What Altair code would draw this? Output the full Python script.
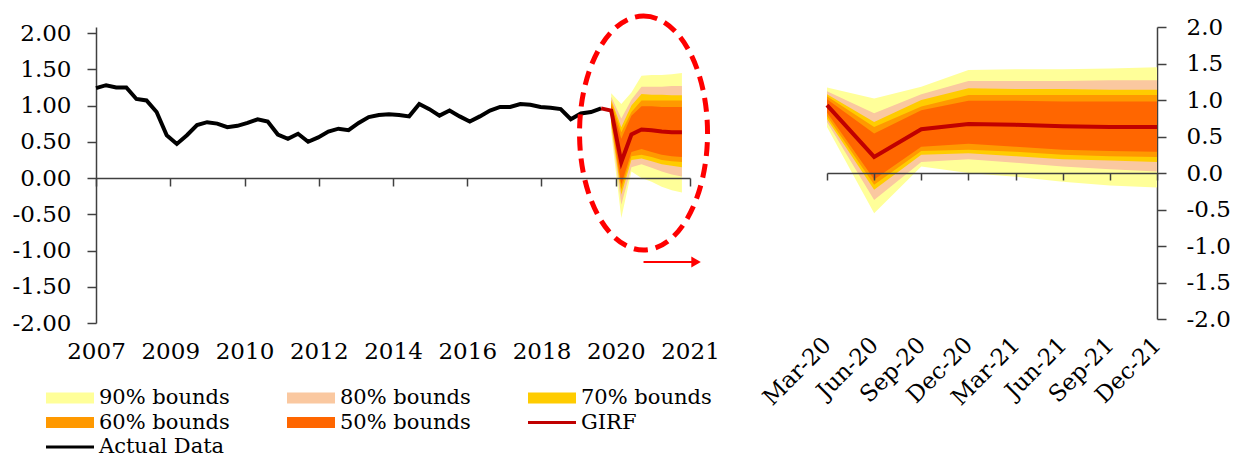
import altair as alt
import pandas as pd

# ---------------- data ----------------
# Actual series, quarterly
actual = [1.24, 1.28, 1.25, 1.25, 1.09, 1.07, 0.91, 0.59, 0.47, 0.59,
          0.73, 0.77, 0.75, 0.70, 0.72, 0.76, 0.81, 0.78, 0.60, 0.54,
          0.61, 0.50, 0.56, 0.64, 0.68, 0.66, 0.76, 0.84, 0.87, 0.88,
          0.87, 0.85, 1.02, 0.95, 0.86, 0.93, 0.85, 0.78, 0.85, 0.93,
          0.98, 0.98, 1.02, 1.01, 0.98, 0.97, 0.95, 0.81, 0.89, 0.91, 0.96]
year_labels = ["2007", "2009", "2010", "2012", "2014", "2016", "2018", "2020", "2021"]

# Forecast horizon, GIRF and its bounds
months = ["Mar-20", "Jun-20", "Sep-20", "Dec-20", "Mar-21", "Jun-21", "Sep-21", "Dec-21"]
girf = [0.93, 0.22, 0.60, 0.67, 0.66, 0.64, 0.63, 0.63]
hi90 = [1.17, 1.02, 1.18, 1.41, 1.42, 1.42, 1.43, 1.45]
hi80 = [1.12, 0.82, 1.08, 1.26, 1.26, 1.26, 1.27, 1.27]
hi70 = [1.08, 0.70, 1.00, 1.16, 1.15, 1.15, 1.14, 1.14]
hi60 = [1.05, 0.63, 0.91, 1.07, 1.07, 1.07, 1.07, 1.07]
hi50 = [1.01, 0.54, 0.86, 0.99, 0.99, 0.98, 0.98, 0.98]
lo50 = [0.83, -0.09, 0.36, 0.40, 0.36, 0.32, 0.30, 0.29]
lo60 = [0.78, -0.16, 0.30, 0.32, 0.29, 0.25, 0.23, 0.22]
lo70 = [0.74, -0.23, 0.25, 0.27, 0.23, 0.19, 0.17, 0.15]
lo80 = [0.70, -0.37, 0.15, 0.19, 0.14, 0.09, 0.05, 0.02]
lo90 = [0.63, -0.55, 0.09, 0.00, -0.05, -0.12, -0.17, -0.20]

band_names = ["90% bounds", "80% bounds", "70% bounds", "60% bounds", "50% bounds"]
band_hi = [hi90, hi80, hi70, hi60, hi50]
band_lo = [lo90, lo80, lo70, lo60, lo50]
legend_names = band_names + ["GIRF", "Actual Data"]
legend_colors = ["#FFFF99", "#FAC8A0", "#FFCC00", "#FF9900", "#FF6600", "#C00000", "#000000"]

# Highlight annotation (ellipse centre and arrow) on the quarterly axis
ellipse_q, ellipse_v = [54.2], [0.62]
arrow_q, arrow_q2, arrow_v = [54.2], [59.4], [-1.16]

# ---------------- layout / style ----------------
FONT = "DejaVu Serif"
AXIS_GREY = "#404040"
PX_PER_UNIT_L = 72.5          # left panel: pixels per unit on the y axis
LEFT_TOP_GAP = 6              # left plot starts a little lower than the right one
LEFT_W = 594
LEFT_H = int(4 * PX_PER_UNIT_L + LEFT_TOP_GAP)
LEFT_YMAX = 2 + LEFT_TOP_GAP / PX_PER_UNIT_L
RIGHT_W, RIGHT_H = 330, 292
X_MAX = 58.8
tick_step = X_MAX / (len(year_labels) - 1)
tick_pos = [i * tick_step for i in range(len(year_labels))]
y_ticks = [-2.0, -1.5, -1.0, -0.5, 0.0, 0.5, 1.0, 1.5, 2.0]

n_act = len(actual)
actual_df = pd.DataFrame({"q": list(range(n_act)), "v": actual})
girf_left_df = pd.DataFrame({"q": list(range(n_act - 1, n_act + len(girf))),
                             "v": [actual[-1]] + girf})
girf_right_df = pd.DataFrame({"m": months, "v": girf})
fan_rows = []
for name, hi, lo in zip(band_names, band_hi, band_lo):
    for i, (h, l) in enumerate(zip(hi, lo)):
        fan_rows.append({"band": name, "q": n_act + i, "m": months[i], "hi": h, "lo": l})
fan_df = pd.DataFrame(fan_rows)
ellipse_df = pd.DataFrame({"q": ellipse_q, "v": ellipse_v})
arrow_df = pd.DataFrame({"q": arrow_q, "q2": arrow_q2, "v": arrow_v})

# Legend swatches: wide rectangles for the bounds, thin bars for the lines
rect_path = "M -2 -0.46 H 2 V 0.46 H -2 Z"
line_path = "M -2 -0.13 H 2 V 0.13 H -2 Z"
legend = alt.Legend(
    title=None, orient="none", legendX=-38, legendY=359, columns=3, direction="horizontal",
    symbolSize=576,
    symbolType=alt.ExprRef(
        expr=f"(datum.label === 'GIRF' || datum.label === 'Actual Data') ? '{line_path}' : '{rect_path}'"),
    symbolStrokeWidth=0,
    labelFont=FONT, labelFontSize=21, labelColor="black", labelOffset=17,
    columnPadding=57, rowPadding=2.5,
)
color = alt.Color("band:N", scale=alt.Scale(domain=legend_names, range=legend_colors), legend=legend)

minus_fix = "replace(format(datum.value, '{}'), '\u2212', '-')"

# ---------------- left panel ----------------
xq_scale = alt.Scale(domain=[0, X_MAX], nice=False, zero=False)
yl_scale = alt.Scale(domain=[-2, LEFT_YMAX], nice=False)
yl_axis = alt.Axis(values=y_ticks, labelExpr=minus_fix.format(".2f"), tickSize=9, labelPadding=16,
                   labelFontSize=23, labelOverlap=False, title=None)
x_none = alt.X("q:Q", scale=xq_scale, axis=None)
x_labels = alt.X("q:Q", scale=xq_scale, axis=alt.Axis(
    values=tick_pos, labelExpr=f"{year_labels}[round(datum.value / {tick_step})]",
    domain=False, ticks=False, labelPadding=17, labelFontSize=23, title=None,
    labelOverlap=False, labelFlush=False, orient="bottom"))
# zero line with ticks, drawn over the fan
x_zero = alt.X("q:Q", scale=xq_scale, axis=alt.Axis(
    values=tick_pos, labels=False, domain=True, ticks=True, tickSize=8,
    offset=-2 * PX_PER_UNIT_L, title=None, orient="bottom", zindex=1))
y_left = alt.Y("v:Q", scale=yl_scale, axis=yl_axis)

left_bands = [
    alt.Chart(fan_df).transform_filter(alt.datum.band == name).mark_area(opacity=1).encode(
        x=x_none, y=alt.Y("lo:Q", scale=yl_scale, axis=yl_axis), y2="hi:Q", color=color)
    for name in band_names
]
actual_line = alt.Chart(actual_df).mark_line(color="black", strokeWidth=4).encode(x=x_labels, y=y_left)
girf_left = alt.Chart(girf_left_df).mark_line(color="#C00000", strokeWidth=4).encode(x=x_zero, y=y_left)
ellipse = alt.Chart(ellipse_df).mark_point(
    shape="M 0 -1 A 0.547 1 0 1 1 0 1 A 0.547 1 0 1 1 0 -1 Z",
    size=234 ** 2, filled=False, stroke="#FF0000", strokeWidth=5, strokeDash=[14, 8], opacity=1,
).encode(x=x_none, y=y_left)
arrow_line = alt.Chart(arrow_df).mark_rule(color="#FF0000", strokeWidth=2).encode(
    x=x_none, x2="q2:Q", y=y_left)
arrow_head = alt.Chart(arrow_df).mark_point(shape="triangle-right", filled=True, size=120,
                                            color="#FF0000", opacity=1).encode(
    x=alt.X("q2:Q", scale=xq_scale, axis=None), y=y_left)

left = alt.layer(*left_bands, actual_line, girf_left, ellipse, arrow_line, arrow_head).resolve_axis(
    x="independent").properties(width=LEFT_W, height=LEFT_H)

# ---------------- right panel ----------------
xm_scale = alt.Scale(type="point", padding=0)
yr_scale = alt.Scale(domain=[-2, 2], nice=False)
yr_axis = alt.Axis(orient="right", values=y_ticks, labelExpr=minus_fix.format(".1f"), tickSize=9,
                   labelPadding=20, labelFontSize=23, labelOverlap=False, title=None)
xm_none = alt.X("m:O", sort=months, scale=xm_scale, axis=None)
xm_labels = alt.X("m:O", sort=months, scale=xm_scale, axis=alt.Axis(
    labelAngle=-45, labelAlign="right", labelBaseline="middle", domain=False, ticks=False,
    labelPadding=22, labelFontSize=23, title=None, labelOverlap=False, orient="bottom"))
xm_zero = alt.X("m:O", sort=months, scale=xm_scale, axis=alt.Axis(
    labels=False, domain=True, ticks=True, tickSize=7, offset=-RIGHT_H / 2,
    title=None, orient="bottom", zindex=1))
y_right = alt.Y("v:Q", scale=yr_scale, axis=yr_axis)

right_bands = [
    alt.Chart(fan_df).transform_filter(alt.datum.band == name).mark_area(opacity=1).encode(
        x=xm_none, y=alt.Y("lo:Q", scale=yr_scale, axis=yr_axis), y2="hi:Q", color=color)
    for name in band_names
]
girf_right = alt.Chart(girf_right_df).mark_line(color="#C00000", strokeWidth=4).encode(x=xm_labels, y=y_right)
girf_right_axis = alt.Chart(girf_right_df).mark_line(opacity=0).encode(x=xm_zero, y=y_right)

right = alt.layer(*right_bands, girf_right_axis, girf_right).resolve_axis(
    x="independent").properties(width=RIGHT_W, height=RIGHT_H)

chart = alt.hconcat(left, right, spacing=38).properties(
    padding={"left": 12, "top": 6, "right": 5, "bottom": 5}
).configure_view(stroke=None).configure_axis(
    labelFont=FONT, labelColor="black", domainColor=AXIS_GREY, tickColor=AXIS_GREY,
    domainWidth=1.5, tickWidth=1.5, grid=False,
).configure_legend(labelFont=FONT)

chart.save("out.html", embed_options={"renderer": "svg", "actions": False})
